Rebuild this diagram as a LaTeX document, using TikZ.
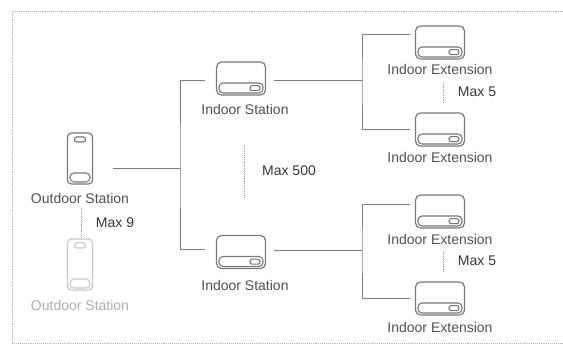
\documentclass[tikz,border=0pt]{standalone}
\usepackage{fontspec}
\setmainfont{Liberation Sans}
\usepackage{tikz}

\begin{document}
\begin{tikzpicture}[x=1pt,y=1pt,
  linkLine/.style={draw=lineColor,line width=0.9pt},
  dotLine/.style={draw=dotColor,line width=0.9pt,densely dotted},
  devIndoor/.style={draw=#1,line width=1.2pt,rounded corners=5pt,minimum width=49pt,minimum height=33pt,inner sep=0pt},
  devOutdoor/.style={draw=#1,line width=1.2pt,rounded corners=4pt,minimum width=25pt,minimum height=51pt,inner sep=0pt},
  devPart/.style={draw=#1,line width=1.1pt},
  devLabel/.style={text=#1,inner sep=0pt,font=\fontsize{14}{16}\selectfont},
  maxLabel/.style={text=maxColor,inner sep=0pt,font=\fontsize{14}{16}\selectfont}]
\definecolor{fillColor}{RGB}{255,255,255}
\definecolor{borderColor}{RGB}{170,180,198}
\definecolor{lineColor}{RGB}{125,125,125}
\definecolor{dotColor}{RGB}{150,150,150}
\definecolor{devColor}{RGB}{120,120,120}
\definecolor{ghostColor}{RGB}{200,200,200}
\definecolor{textColor}{RGB}{80,80,80}
\definecolor{ghostText}{RGB}{175,175,175}
\definecolor{maxColor}{RGB}{55,55,55}

\path[use as bounding box,fill=fillColor] (0,0) rectangle (563,345);
\begin{scope}
\path[clip] (0,0) rectangle (563,345);
\path[draw=borderColor,line width=0.9pt,densely dotted] (563,334) -- (12,334) -- (12,2) -- (563,2);
\end{scope}

\node[devOutdoor=devColor] (outdoorA) at (80,186.5) {};
\node[devOutdoor=ghostColor] (outdoorB) at (80,80.5) {};
\node[devIndoor=devColor] (indoorA) at (241,266.5) {};
\node[devIndoor=devColor] (indoorB) at (241,93) {};
\node[devIndoor=devColor] (extA) at (440,302.5) {};
\node[devIndoor=devColor] (extB) at (440,215.5) {};
\node[devIndoor=devColor] (extC) at (440,133.5) {};
\node[devIndoor=devColor] (extD) at (440,46.5) {};

\foreach \dev in {indoorA,indoorB,extA,extB,extC,extD} {
  \path[devPart=devColor,rounded corners=4pt] ([shift={(-22,-14.5)}]\dev.center) rectangle +(44,10);
  \path[devPart=devColor,rounded corners=2.2pt] ([shift={(9,-12.2)}]\dev.center) rectangle +(10,5);
}
\foreach \dev/\col in {outdoorA/devColor,outdoorB/ghostColor} {
  \path[devPart=\col,rounded corners=2.2pt] ([shift={(-5.5,16.5)}]\dev.center) rectangle +(11,5);
  \path[devPart=\col,rounded corners=4pt] ([shift={(-10,-23.5)}]\dev.center) rectangle +(20,9);
}

\node[devLabel=textColor] (outdoorAtxt) at (80,146) {Outdoor Station};
\node[devLabel=ghostText] (outdoorBtxt) at (80,40) {Outdoor Station};
\node[devLabel=textColor] (indoorAtxt) at (245,235) {Indoor Station};
\node[devLabel=textColor] (indoorBtxt) at (245,60) {Indoor Station};
\node[devLabel=textColor] (extAtxt) at (440,275) {Indoor Extension};
\node[devLabel=textColor] (extBtxt) at (440,187) {Indoor Extension};
\node[devLabel=textColor] (extCtxt) at (440,106) {Indoor Extension};
\node[devLabel=textColor] (extDtxt) at (440,18) {Indoor Extension};

\node[maxLabel] (maxOutdoor) at (115,122) {Max 9};
\node[maxLabel] (maxIndoor) at (289,174) {Max 500};
\node[maxLabel] (maxExtA) at (477,253) {Max 5};
\node[maxLabel] (maxExtB) at (477,84) {Max 5};

\coordinate (trunk) at (180,177);
\coordinate (juncA) at (362,265);
\coordinate (juncB) at (362,95);

\draw[linkLine] ([shift={(20,-9.5)}]outdoorA.east) -- (trunk);
\draw[linkLine] ([shift={(-11,-1.5)}]indoorA.west) -| (trunk) |- ([shift={(-11,3)}]indoorB.west);
\draw[linkLine] ([shift={(8,-1.5)}]indoorA.east) -- (juncA);
\draw[linkLine] ([shift={(8,2)}]indoorB.east) -- (juncB);
\draw[linkLine] ([shift={(-4.5,8.5)}]extA.west) -| (juncA) |- ([xshift=-4.5pt]extB.west);
\draw[linkLine] ([shift={(-4.5,7.5)}]extC.west) -| (juncB) |- ([xshift=-4.5pt]extD.west);

\draw[dotLine,shorten <=4pt] ([xshift=1pt]outdoorAtxt.south) -- ([xshift=1pt]outdoorB.north);
\draw[dotLine,shorten <=30pt,shorten >=38pt] ([xshift=-1pt]indoorAtxt.south) -- ([xshift=3pt]indoorB.north);
\draw[dotLine,shorten <=8pt,shorten >=10pt] ([xshift=3pt]extAtxt.south) -- ([xshift=3pt]extB.north);
\draw[dotLine,shorten <=8pt,shorten >=10pt] ([xshift=3pt]extCtxt.south) -- ([xshift=3pt]extD.north);
\end{tikzpicture}
\end{document}
